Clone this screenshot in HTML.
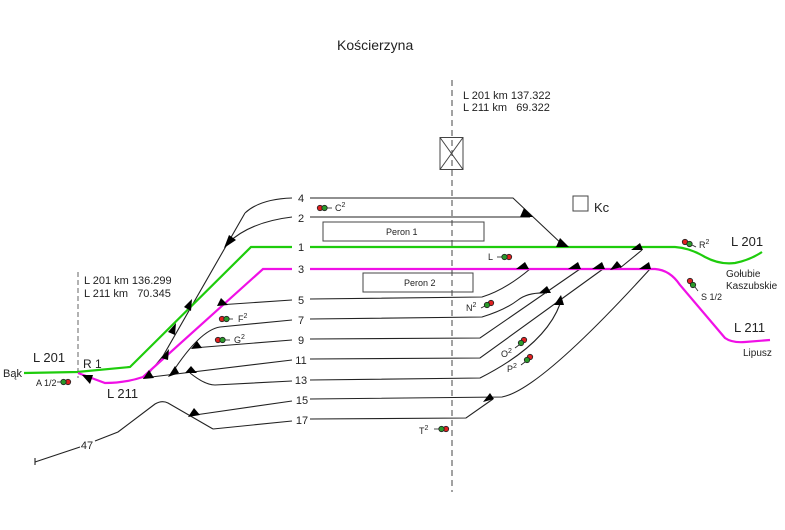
<!DOCTYPE html>
<html><head><meta charset="utf-8"><style>
html,body{margin:0;padding:0;background:#fff}
svg{display:block}
text{font-family:"Liberation Sans",sans-serif;fill:#222}
</style></head><body>
<svg width="785" height="530" viewBox="0 0 785 530" xmlns="http://www.w3.org/2000/svg">
<rect width="785" height="530" fill="#fff"/>
<text x="337" y="50" font-size="14">Kościerzyna</text>
<line x1="452" y1="80" x2="452" y2="492" stroke="#444" stroke-width="1" stroke-dasharray="6,4"/>
<line x1="78" y1="272" x2="78" y2="378" stroke="#999" stroke-width="1.5" stroke-dasharray="5,3"/>
<text x="463" y="99" font-size="11">L 201 km 137.322</text>
<text x="463" y="111" font-size="11">L 211 km &#160;&#160;69.322</text>
<text x="84" y="284" font-size="11">L 201 km 136.299</text>
<text x="84" y="297" font-size="11">L 211 km &#160;&#160;70.345</text>
<rect x="440" y="137.5" width="23" height="32" fill="none" stroke="#444" stroke-width="1"/>
<line x1="440" y1="137.5" x2="463" y2="169.5" stroke="#444"/>
<line x1="463" y1="137.5" x2="440" y2="169.5" stroke="#444"/>
<rect x="573" y="196" width="15" height="15" fill="none" stroke="#444"/>
<text x="594" y="212" font-size="13">Kc</text>
<rect x="323" y="222" width="161" height="19" fill="none" stroke="#444"/>
<text x="386" y="235" font-size="9">Peron 1</text>
<rect x="363" y="273" width="110" height="19" fill="none" stroke="#444"/>
<text x="404" y="286" font-size="9">Peron 2</text>
<g fill="none" stroke="#222" stroke-width="1.1">
<path d="M245,213 Q260,199 292,198"/>
<path d="M310,198 L513,198 L565,247"/>
<path d="M228,243 Q250,222 292,217"/>
<path d="M310,217 L530,217"/>
<path d="M245,213 L163,356 L145,378"/>
<path d="M218,305 L292,300"/><path d="M310,299 L482,297 Q505,290 530,269"/>
<path d="M172,373 Q200,330 220,327 L292,320"/><path d="M310,319 L482,317 Q505,310 518,300 Q528,292 547,293"/>
<path d="M193,348 L292,340"/><path d="M310,339 L480,338 L580,269"/>
<path d="M143,378 L292,360"/><path d="M310,359 L480,358 L603,269"/>
<path d="M190,373 Q205,385 215,385 L292,381"/><path d="M310,380 L480,378 Q545,345 560,304"/>
<path d="M195,415 L292,401"/><path d="M310,399 L502,397 Q540,390 650,269"/>
<path d="M213,429 L292,421"/><path d="M310,419 L466,418 L493,399"/>
<path d="M213,429 L168,403 Q162,400 155,404 L118,432 L95,441"/>
<path d="M80,447 L35,462"/><path d="M35,458 L35,465"/>
<path d="M620,268 L642,250"/>
</g>
<path d="M24,373 L77,372 L130,367 L251,247 L292,247" fill="none" stroke="#1ecc0c" stroke-width="2.2"/>
<path d="M310,247 L675,247 Q690,248 705,257 Q720,265 735,263 Q750,260 762,252" fill="none" stroke="#1ecc0c" stroke-width="2.2"/>
<path d="M78,373 L105,383 Q125,383 143,377 L263,269 L292,269" fill="none" stroke="#f010e6" stroke-width="2.2"/>
<path d="M310,269 L655,269 Q670,270 680,285 L725,338 Q732,343 745,342 L770,340" fill="none" stroke="#f010e6" stroke-width="2.2"/>
<g fill="#000">
<polygon points="224,248 236,240 229,235"/>
<polygon points="520,217 533,217 524,208"/>
<polygon points="556,247 569,247 560,238"/>
<polygon points="82,375 90,384 93,375"/>
<polygon points="516,269 529,269 525,262"/>
<polygon points="568,269 581,269 578,262"/>
<polygon points="592,269 605,269 602,262"/>
<polygon points="639,269 651,269 649,262"/>
<polygon points="631,250 643,250 640,243"/>
<polygon points="610,270 622,267 617,261"/>
<polygon points="539,293 551,293 547,286"/>
<polygon points="554,305 564,305 561,295"/>
<polygon points="483,402 494,399 490,393"/>
<polygon points="217,306 228,305 221,298"/>
<polygon points="168,377 179,373 175,366"/>
<polygon points="191,349 202,348 197,341"/>
<polygon points="185,373 197,373 191,366"/>
<polygon points="188,417 200,415 194,408"/>
<polygon points="143,379 154,378 149,370"/>
<polygon points="184,307 192,299 191,311"/>
<polygon points="168,332 176,323 175,335"/>
<polygon points="161,358 169,349 168,360"/>
</g>
<g font-size="11" text-anchor="middle">
<text x="301" y="202">4</text><text x="301" y="222">2</text><text x="301" y="251">1</text><text x="301" y="273">3</text>
<text x="301" y="304">5</text><text x="301" y="324">7</text><text x="301" y="344">9</text><text x="301" y="364">11</text>
<text x="301" y="384">13</text><text x="302" y="404">15</text><text x="302" y="424">17</text><text x="87" y="449">47</text>
</g>
<text x="33" y="362" font-size="13">L 201</text>
<text x="3" y="377" font-size="11">Bąk</text>
<text x="83" y="368" font-size="12">R 1</text>
<text x="107" y="398" font-size="13">L 211</text>
<text x="731" y="246" font-size="13">L 201</text>
<text x="726" y="277" font-size="10">Gołubie</text>
<text x="726" y="289" font-size="10">Kaszubskie</text>
<text x="734" y="332" font-size="13">L 211</text>
<text x="743" y="356" font-size="10">Lipusz</text>
<g stroke="#222" stroke-width="0.8">
<circle cx="320" cy="208" r="2.7" fill="#e02020"/><circle cx="324.5" cy="208" r="2.7" fill="#2a9a2a"/><line x1="327" y1="208" x2="332" y2="208"/>
<circle cx="68" cy="382" r="2.7" fill="#e02020"/><circle cx="63.5" cy="382" r="2.7" fill="#2a9a2a"/><line x1="61" y1="382" x2="57" y2="382"/>
<circle cx="222" cy="319" r="2.7" fill="#e02020"/><circle cx="226.5" cy="319" r="2.7" fill="#2a9a2a"/><line x1="229" y1="319" x2="233" y2="319"/>
<circle cx="218" cy="340" r="2.7" fill="#e02020"/><circle cx="222.5" cy="340" r="2.7" fill="#2a9a2a"/><line x1="225" y1="340" x2="230" y2="340"/>
<circle cx="509" cy="257" r="2.7" fill="#e02020"/><circle cx="504.5" cy="257" r="2.7" fill="#2a9a2a"/><line x1="502" y1="257" x2="497" y2="257"/>
<circle cx="491" cy="303" r="2.7" fill="#e02020"/><circle cx="487" cy="305" r="2.7" fill="#2a9a2a"/><line x1="485" y1="306" x2="481" y2="308"/>
<circle cx="524" cy="340" r="2.7" fill="#e02020"/><circle cx="521" cy="343" r="2.7" fill="#2a9a2a"/><line x1="519" y1="345" x2="515" y2="348"/>
<circle cx="530" cy="357" r="2.7" fill="#e02020"/><circle cx="527" cy="360" r="2.7" fill="#2a9a2a"/><line x1="525" y1="362" x2="521" y2="365"/>
<circle cx="446" cy="429" r="2.7" fill="#e02020"/><circle cx="441.5" cy="429" r="2.7" fill="#2a9a2a"/><line x1="439" y1="429" x2="434" y2="429"/>
<circle cx="685" cy="242" r="2.7" fill="#e02020"/><circle cx="689.5" cy="244" r="2.7" fill="#2a9a2a"/><line x1="692" y1="245" x2="696" y2="247"/>
<circle cx="690" cy="281" r="2.7" fill="#e02020"/><circle cx="693" cy="285" r="2.7" fill="#2a9a2a"/><line x1="695" y1="287" x2="698" y2="291"/>
</g>
<g font-size="9">
<text x="335" y="211">C<tspan dy="-4" font-size="7">2</tspan></text>
<text x="36" y="386">A 1/2</text>
<text x="238" y="322">F<tspan dy="-4" font-size="7">2</tspan></text>
<text x="234" y="343">G<tspan dy="-4" font-size="7">2</tspan></text>
<text x="488" y="260">L</text>
<text x="466" y="311">N<tspan dy="-4" font-size="7">2</tspan></text>
<text x="501" y="357">O<tspan dy="-4" font-size="7">2</tspan></text>
<text x="507" y="372">P<tspan dy="-4" font-size="7">2</tspan></text>
<text x="419" y="434">T<tspan dy="-4" font-size="7">2</tspan></text>
<text x="699" y="248">R<tspan dy="-4" font-size="7">2</tspan></text>
<text x="701" y="300">S 1/2</text>
</g>
</svg>
</body></html>
